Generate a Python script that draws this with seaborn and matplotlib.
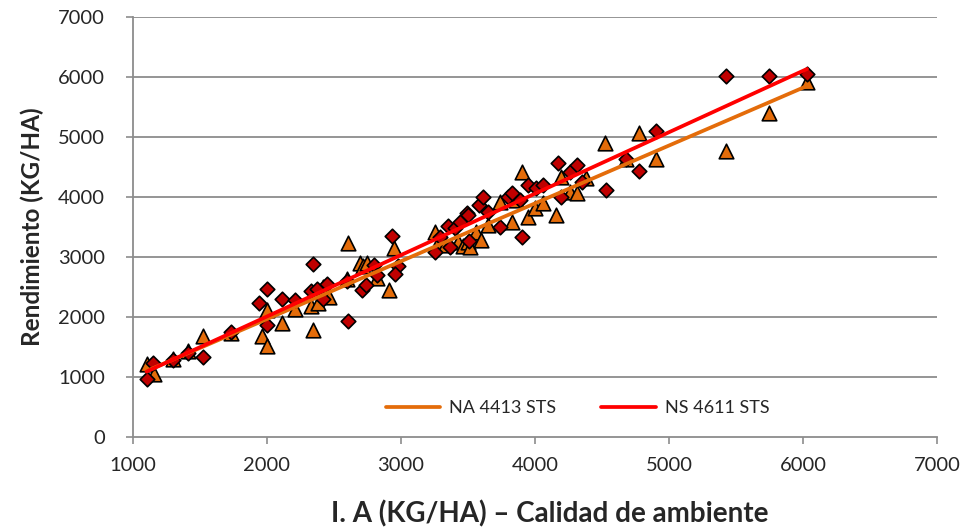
import numpy as np
import pandas as pd
import matplotlib
matplotlib.use("Agg")
import matplotlib.pyplot as plt
import seaborn as sns

# NA 4413 STS (triangulos)
na_x = [1102, 1157, 1301, 1413, 1520, 1729, 1965, 2002, 1997, 2109, 2213, 2345,
        2328, 2415, 2378, 2460, 2606, 2594, 2693, 2718, 2747, 2818, 2912, 2947,
        3253, 3285, 3330, 3427, 3460, 3501, 3514, 3560, 3601, 3651, 3738, 3825,
        3862, 3900, 3949, 3999, 4061, 4160, 4198, 4260, 4310, 4384, 4521, 4677,
        4777, 4902, 5424, 5747, 6030]
na_y = [1228, 1061, 1311, 1433, 1683, 1728, 1689, 2117, 1517, 1906, 2128, 1783,
        2183, 2506, 2228, 2328, 3239, 2628, 2906, 2850, 2906, 2650, 2450, 3145,
        3422, 3272, 3200, 3256, 3180, 3256, 3172, 3420, 3284, 3534, 3923, 3589,
        3950, 4411, 3673, 3812, 3895, 3700, 4339, 4089, 4061, 4312, 4895, 4629,
        5072, 4629, 4773, 5406, 5923]

# NS 4611 STS (rombos)
ns_x = [1102, 1152, 1301, 1413, 1525, 1729, 1942, 2002, 1997, 2114, 2213, 2345,
        2328, 2375, 2419, 2452, 2606, 2600, 2706, 2743, 2798, 2818, 2932, 2979,
        2952, 3253, 3290, 3352, 3365, 3400, 3439, 3494, 3501, 3509, 3583, 3611,
        3651, 3738, 3800, 3825, 3887, 3900, 3949, 4011, 4061, 4172, 4198, 4260,
        4310, 4354, 4528, 4677, 4777, 4902, 5424, 5747, 6030]
ns_y = [978, 1239, 1290, 1400, 1339, 1760, 2228, 1867, 2461, 2300, 2283, 2878,
        2433, 2467, 2300, 2545, 1933, 2600, 2450, 2533, 2867, 2700, 3350, 2850,
        2712, 3089, 3339, 3517, 3161, 3480, 3589, 3728, 3700, 3272, 3867, 4006,
        3756, 3495, 4006, 4062, 3950, 3328, 4201, 4145, 4200, 4573, 4006, 4417,
        4534, 4256, 4117, 4629, 4439, 5106, 6018, 6018, 6051]

na = pd.DataFrame({"ia": na_x, "rend": na_y})
ns = pd.DataFrame({"ia": ns_x, "rend": ns_y})

sns.set_style("white")
plt.rcParams['font.family'] = ['Lato', 'DejaVu Sans']

fig = plt.figure(figsize=(9.7, 5.3), dpi=100)
ax = fig.add_axes([0.137, 0.175, 0.829, 0.793])

grid_col = "#8c8c8c"
for v in range(1000, 7001, 1000):
    ax.axhline(v, color=grid_col, lw=1.3, zorder=0)

sns.scatterplot(data=na, x="ia", y="rend", marker="^", s=110, color="#e46c0a",
                edgecolor="black", linewidth=1.2, ax=ax, zorder=3)
sns.scatterplot(data=ns, x="ia", y="rend", marker="D", s=55, color="#c00000",
                edgecolor="black", linewidth=1.2, ax=ax, zorder=3)

sns.regplot(data=na, x="ia", y="rend", scatter=False, ci=None, ax=ax, label="NA 4413 STS",
            line_kws={"color": "#e46c0a", "lw": 2.7, "zorder": 4})
sns.regplot(data=ns, x="ia", y="rend", scatter=False, ci=None, ax=ax, label="NS 4611 STS",
            line_kws={"color": "#ff0000", "lw": 2.7, "zorder": 5})

ax.set_xlim(1000, 7000)
ax.set_ylim(0, 7000)
ax.set_xticks(range(1000, 7001, 1000))
ax.set_yticks(range(0, 7001, 1000))
ax.tick_params(axis="both", labelsize=14.5, length=5, width=1.2, color=grid_col,
               direction="out", bottom=True, left=True)
ax.tick_params(axis="y", pad=15)
ax.tick_params(axis="x", pad=9)
for s in ["top", "right"]:
    ax.spines[s].set_visible(False)
for s in ["left", "bottom"]:
    ax.spines[s].set_color(grid_col)
    ax.spines[s].set_linewidth(1.3)

ax.set_xlabel("I. A (KG/HA) – Calidad de ambiente", fontsize=20, fontweight="bold")
ax.xaxis.set_label_coords(0.519, -0.15)
ax.set_ylabel("Rendimiento (KG/HA)", fontsize=17.5, fontweight="bold", labelpad=10)

handles, labels = ax.get_legend_handles_labels()
ax.legend(handles=handles, labels=labels, ncol=2, loc="center", bbox_to_anchor=(0.553, 0.069),
          frameon=False, fontsize=13, handlelength=3.0, handletextpad=0.5, columnspacing=2.5)

fig.savefig("out.png", dpi=100)
